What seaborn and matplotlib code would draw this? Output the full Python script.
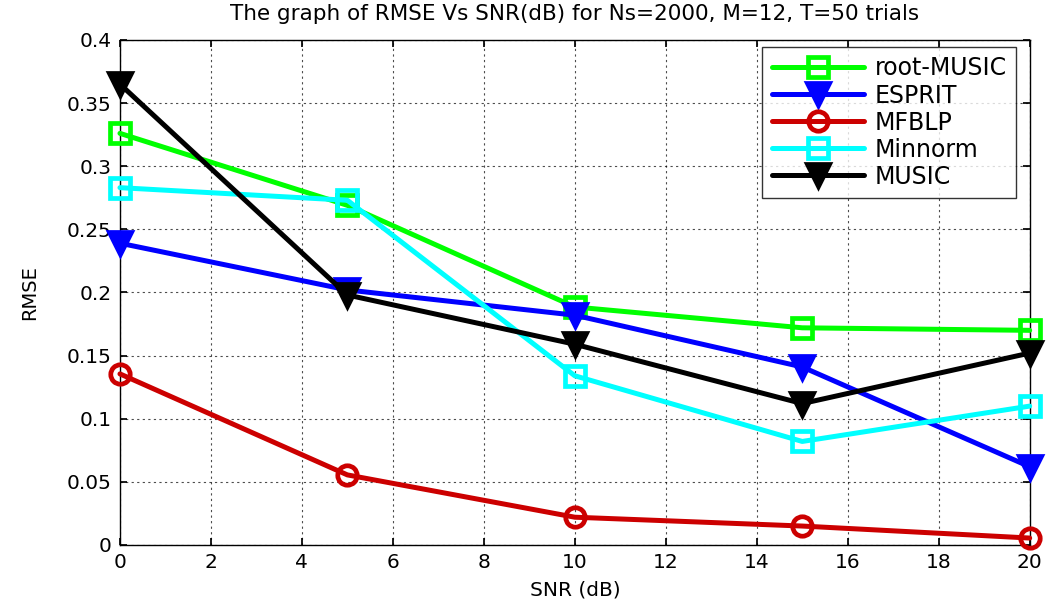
import matplotlib
matplotlib.use("Agg")
import matplotlib.pyplot as plt
import seaborn as sns
import pandas as pd

snr = [0, 5, 10, 15, 20]
root_music = [0.326, 0.269, 0.1885, 0.172, 0.170]
esprit = [0.239, 0.202, 0.182, 0.141, 0.062]
mfblp = [0.1355, 0.0555, 0.022, 0.015, 0.0055]
minnorm = [0.283, 0.273, 0.134, 0.082, 0.110]
music = [0.365, 0.198, 0.159, 0.112, 0.152]

series_names = ["root-MUSIC", "ESPRIT", "MFBLP", "Minnorm", "MUSIC"]
series_vals = [root_music, esprit, mfblp, minnorm, music]
colors = ["#00ff00", "#0000ff", "#cc0000", "#00ffff", "#000000"]
markers = ["s", "v", "o", "s", "v"]
filled = [False, True, False, False, True]

sns.set_theme(style="white")
plt.rcParams['font.family'] = ['DejaVu Sans']
plt.rcParams['text.color'] = 'black'
plt.rcParams['axes.labelcolor'] = 'black'
plt.rcParams['xtick.color'] = 'black'
plt.rcParams['ytick.color'] = 'black'

fig = plt.figure(figsize=(10.55, 6.05), dpi=100)
ax = fig.add_axes([0.1137, 0.0992, 0.976 - 0.1137, 0.934 - 0.0992])

for name, vals, c, m, f in zip(series_names, series_vals, colors, markers, filled):
    df = pd.DataFrame({"SNR": snr, "RMSE": vals})
    sns.lineplot(data=df, x="SNR", y="RMSE", ax=ax, color=c, linewidth=3.6,
                 marker=m, markersize=14 if m != "v" else 16,
                 markerfacecolor=(c if f else "none"), markeredgecolor=c,
                 markeredgewidth=3.4, label=name, clip_on=False, zorder=3)

ax.set_xlim(0, 20)
ax.set_ylim(0, 0.4)
ax.set_xticks(range(0, 21, 2))
ax.set_yticks([0, 0.05, 0.1, 0.15, 0.2, 0.25, 0.3, 0.35, 0.4])
ax.set_yticklabels(["0", "0.05", "0.1", "0.15", "0.2", "0.25", "0.3", "0.35", "0.4"])
ax.tick_params(axis="both", labelsize=14.5, direction="in", length=5, color="black",
               labelcolor="black", top=True, right=True, bottom=True, left=True, pad=6)
ax.grid(True, linestyle=(0, (2, 3)), color="black", linewidth=0.8, alpha=0.7)
for s in ax.spines.values():
    s.set_color("black")
    s.set_linewidth(1)
    s.set_zorder(2.5)
ax.set_xlabel("SNR (dB)", fontsize=14.5, labelpad=6, color="black")
ax.set_ylabel("RMSE", fontsize=14, labelpad=20, color="black")
ax.set_title("The graph of RMSE Vs SNR(dB) for Ns=2000, M=12, T=50 trials",
             fontsize=15.5, pad=14, color="black")

leg = ax.legend(loc="upper right", fontsize=17, frameon=True, fancybox=False,
                edgecolor="black", handlelength=3.9, handletextpad=0.45,
                borderpad=0.4, labelspacing=0.13, borderaxespad=0,
                bbox_to_anchor=(0.985, 0.986))
leg.get_frame().set_linewidth(1)
leg.set_zorder(5)
for t in leg.get_texts():
    t.set_color("black")

fig.savefig("out.png", dpi=100)
